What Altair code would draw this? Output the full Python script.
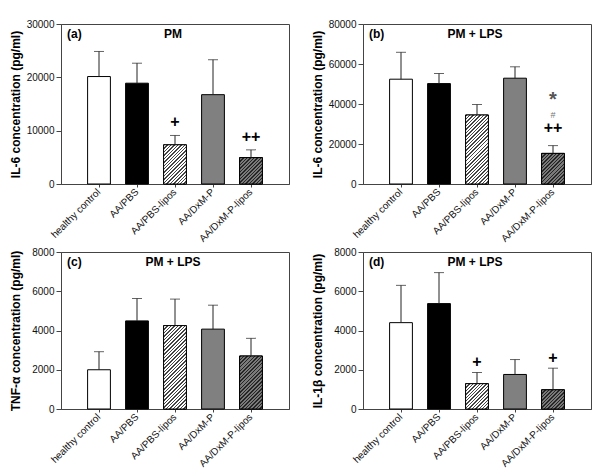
import math
import altair as alt
import pandas as pd

categories = ["healthy control", "AA/PBS", "AA/PBS-lipos", "AA/DxM-P", "AA/DxM-P-lipos"]

il6_pm = [20150, 18900, 7350, 16750, 4950]
il6_pm_sd = [4700, 3750, 1750, 6550, 1450]

il6_lps = [52400, 50200, 34500, 52900, 15300]
il6_lps_sd = [13450, 5050, 5250, 5700, 3900]

tnf_lps = [2000, 4490, 4250, 4070, 2700]
tnf_lps_sd = [920, 1140, 1350, 1220, 900]

il1b_lps = [4400, 5370, 1290, 1760, 980]
il1b_lps_sd = [1900, 1580, 570, 760, 1100]

# significance marks: (category, symbol)
ann_a = [("AA/PBS-lipos", "+"), ("AA/DxM-P-lipos", "++")]
ann_b = [("AA/DxM-P-lipos", "++"), ("AA/DxM-P-lipos", "#"), ("AA/DxM-P-lipos", "*")]
ann_d = [("AA/PBS-lipos", "+"), ("AA/DxM-P-lipos", "+")]

FONT = "Liberation Sans"
W = 228
PAD_IN, PAD_OUT = 0.4, 0.7
BAR_W = W / (len(categories) - PAD_IN + 2 * PAD_OUT) * (1 - PAD_IN)
solid_fill = ["#ffffff", "#000000", "#ffffff", "#808080", "#808080"]


def hatch(value, ymax, H, bg, line, spacing=2.5, frac=0.42):
    w = BAR_W
    h = value / ymax * H
    c = (w + h) / (w * w + h * h)
    n = max(1, round((w + h) / math.sqrt(2) / spacing))
    stops = []
    for i in range(n):
        stops += [
            alt.GradientStop(offset=i / n, color=line),
            alt.GradientStop(offset=(i + frac) / n, color=line),
            alt.GradientStop(offset=(i + frac) / n, color=bg),
            alt.GradientStop(offset=(i + 1) / n, color=bg),
        ]
    return alt.LinearGradient(gradient="linear", x1=0, y1=0, x2=w * c, y2=h * c, stops=stops)


def panel(values, sds, ymax, ystep, ytitle, letter, subtitle, H, ann_layers):
    df = pd.DataFrame({"group": categories, "value": values, "sd": sds})
    df["top"] = df["value"] + df["sd"]
    x = alt.X("group:N", sort=categories,
              scale=alt.Scale(paddingInner=PAD_IN, paddingOuter=PAD_OUT),
              axis=alt.Axis(title=None, labelAngle=-45, labelAlign="right",
                            labelBaseline="middle", labelPadding=3, tickSize=3))
    yscale = alt.Scale(domain=[0, ymax], nice=False)
    yaxis = alt.Axis(title=ytitle, values=list(range(0, ymax + 1, ystep)),
                     format="d", grid=False, labelOverlap=False)
    y = alt.Y("value:Q", scale=yscale, axis=yaxis)
    ytop = alt.Y("top:Q", scale=yscale, axis=yaxis)
    base = alt.Chart(df)
    bars = base.mark_bar(stroke="#000000", strokeWidth=1).encode(
        x=x, y=y,
        fill=alt.Fill("group:N", scale=alt.Scale(domain=categories, range=solid_fill), legend=None),
    )
    layers = [bars]
    for cat, bg, line in [("AA/PBS-lipos", "#ffffff", "#444444"), ("AA/DxM-P-lipos", "#7a7a7a", "#262626")]:
        v = values[categories.index(cat)]
        layers.append(
            base.transform_filter(alt.datum.group == cat)
            .mark_bar(stroke="#000000", strokeWidth=1, fill=hatch(v, ymax, H, bg, line))
            .encode(x=x, y=y)
        )
    layers.append(base.mark_rule(color="#222222", strokeWidth=1).encode(x=x, y=y, y2="top:Q"))
    layers.append(base.mark_tick(color="#222222", thickness=1, size=10).encode(x=x, y=ytop))
    lab = pd.DataFrame({"t": [letter], "s": [subtitle]})
    layers.append(alt.Chart(lab).mark_text(align="left", baseline="middle", font=FONT,
                                            fontSize=12, fontWeight="bold").encode(
        x=alt.value(6), y=alt.value(10), text="t:N"))
    layers.append(alt.Chart(lab).mark_text(align="center", baseline="middle", font=FONT,
                                            fontSize=12, fontWeight="bold").encode(
        x=alt.value(112), y=alt.value(10), text="s:N"))
    for rows, dy, size, color, weight in ann_layers:
        adf = pd.DataFrame(rows, columns=["group", "sym"]).merge(df, on="group")
        layers.append(alt.Chart(adf).mark_text(dy=dy, fontSize=size, color=color, fontWeight=weight,
                                               font=FONT, baseline="middle").encode(
            x=x, y=ytop, text="sym:N"))
    return alt.layer(*layers).properties(width=W, height=H)


pa = panel(il6_pm, il6_pm_sd, 30000, 10000, "IL-6 concentration (pg/ml)", "(a)", "PM", 160,
           [(ann_a, -13, 16, "#000000", "bold")])
pb = panel(il6_lps, il6_lps_sd, 80000, 20000, "IL-6 concentration (pg/ml)", "(b)", "PM + LPS", 160,
           [(ann_b[:1], -18, 16, "#000000", "bold"), (ann_b[1:2], -31, 9, "#777777", "normal"),
            (ann_b[2:], -46, 20, "#555555", "bold")])
pc = panel(tnf_lps, tnf_lps_sd, 8000, 2000, "TNF-\u03b1 concentration (pg/ml)", "(c)", "PM + LPS", 157, [])
pd_ = panel(il1b_lps, il1b_lps_sd, 8000, 2000, "IL-1\u03b2 concentration (pg/ml)", "(d)", "PM + LPS", 157,
            [(ann_d, -10, 16, "#000000", "bold")])

chart = alt.vconcat(
    alt.hconcat(pa, pb, spacing=20),
    alt.hconcat(pc, pd_, spacing=20),
    spacing=2,
).properties(
    padding={"left": 0, "top": 10, "right": 0, "bottom": 0}
).configure_view(
    stroke="#444444", strokeWidth=1
).configure_axis(
    labelFont=FONT, labelFontSize=10, labelColor="#111111",
    titleFont=FONT, titleFontSize=12, titleFontWeight="bold", titleColor="#000000",
    domainColor="#444444", tickColor="#444444",
).configure_axisY(
    tickSize=5, labelPadding=2, minExtent=34, maxExtent=34, titlePadding=5,
)

chart.save("out.html", embed_options={"renderer": "svg", "actions": False})
